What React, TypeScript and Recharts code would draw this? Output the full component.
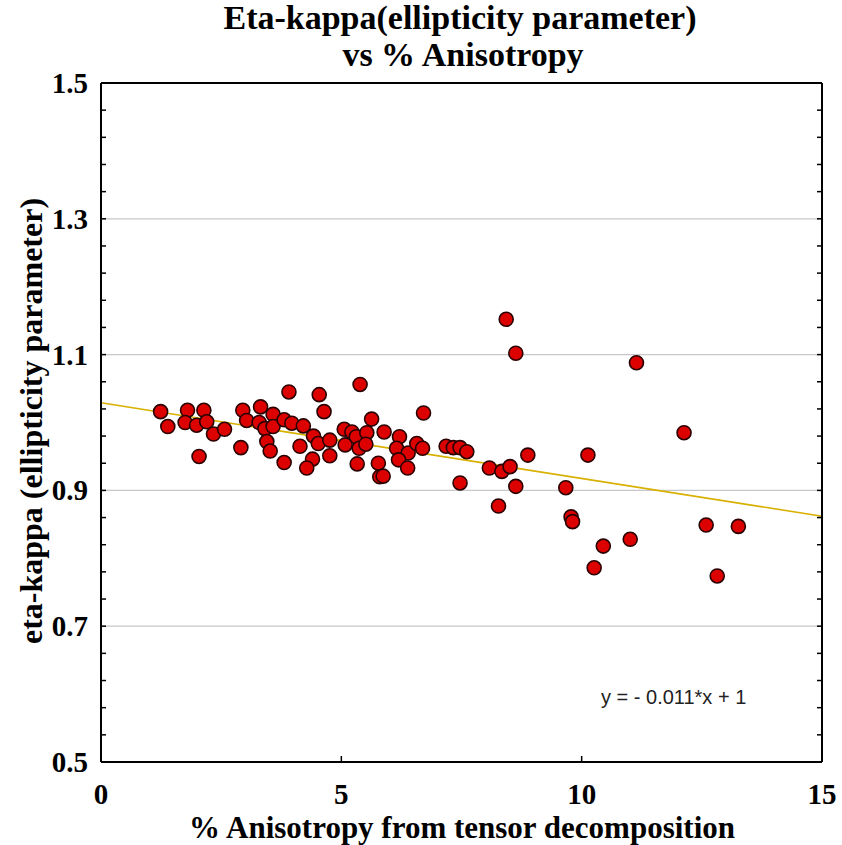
import { ReferenceLine, Scatter, ScatterChart, XAxis, YAxis } from "recharts";

// % anisotropy (x) and eta-kappa (y) for each station
const anisotropy = [
  1.24, 1.39, 1.80, 1.75, 1.99, 2.14, 2.20, 2.34, 2.57, 2.04,
  2.95, 3.03, 2.91, 3.32, 3.29, 3.58, 3.41, 3.58, 3.45, 3.52,
  3.81, 3.97, 3.91, 3.81, 4.14, 4.54, 5.39, 4.64, 4.21, 4.42,
  4.52, 4.40, 4.28, 4.76, 4.76, 5.06, 5.22, 5.31, 5.53, 5.08,
  5.37, 5.51, 5.63, 5.33, 5.77, 5.80, 5.87, 5.89, 6.21, 6.15,
  6.39, 6.19, 6.38, 6.57, 6.69, 6.71, 7.18, 7.33, 7.47, 7.61,
  7.47, 8.43, 8.63, 11.14, 8.08, 8.34, 8.51, 8.63, 8.27, 8.88,
  9.67, 9.78, 9.81, 10.13, 10.45, 10.26, 11.01, 12.13, 12.59, 13.26,
  12.82,
];
const etaKappa = [
  1.016, 0.994, 1.018, 1.0, 0.996, 1.018, 1.001, 0.983, 0.99, 0.95,
  1.018, 1.003, 0.963, 1.023, 1.0, 1.012, 0.991, 0.994, 0.972, 0.958,
  1.004, 0.999, 1.045, 0.941, 0.965, 1.041, 1.056, 1.016, 0.995, 0.98,
  0.969, 0.946, 0.933, 0.974, 0.951, 0.99, 0.986, 0.979, 0.985, 0.967,
  0.962, 0.968, 1.005, 0.939, 0.94, 0.92, 0.921, 0.986, 0.979, 0.962,
  0.955, 0.945, 0.933, 0.969, 0.962, 1.014, 0.965, 0.963, 0.963, 0.957,
  0.911, 1.152, 1.102, 1.088, 0.933, 0.928, 0.935, 0.906, 0.877, 0.952,
  0.904, 0.861, 0.854, 0.952, 0.818, 0.786, 0.828, 0.985, 0.849, 0.847,
  0.774,
];
const points = anisotropy.map((x, i) => ({ x, y: etaKappa[i] }));

// linear fit drawn across the full x range
const fitX = [0, 15];
const fitY = [1.029, 0.862];

const xTicks = [0, 5, 10, 15];
const yMajor = [0.5, 0.7, 0.9, 1.1, 1.3, 1.5];
const yGrid = [0.7, 0.9, 1.1, 1.3];
const yMinor = Array.from({ length: 26 }, (_, i) => +(0.5 + i * 0.04).toFixed(2));

const serif = "'Liberation Serif', 'Times New Roman', serif";
const tickFont = { fontFamily: serif, fontWeight: 700, fontSize: 29, fill: "#000" };

function LeftTick({ x, y, payload }: any) {
  const major = yMajor.includes(payload.value);
  return (
    <g>
      <line x1={x} x2={x + 5} y1={y} y2={y} stroke="#000" strokeWidth={1.5} />
      {major ? (
        <text x={x - 13} y={y} dy={10} textAnchor="end" {...tickFont}>
          {payload.value.toFixed(1)}
        </text>
      ) : null}
    </g>
  );
}

function RightTick({ x, y }: any) {
  return <line x1={x} x2={x - 5} y1={y} y2={y} stroke="#000" strokeWidth={1.5} />;
}

function BottomTick({ x, y, payload }: any) {
  const inner = payload.value > 0 && payload.value < 15;
  return (
    <g>
      {inner ? <line x1={x} x2={x} y1={y} y2={y - 6} stroke="#000" strokeWidth={1.5} /> : null}
      <text x={x} y={y + 42} textAnchor="middle" {...tickFont}>
        {payload.value}
      </text>
    </g>
  );
}

function TopTick({ x, y, payload }: any) {
  if (payload.value <= 0 || payload.value >= 15) return <g />;
  return <line x1={x} x2={x} y1={y} y2={y + 6} stroke="#000" strokeWidth={1.5} />;
}

function Dot({ cx, cy }: any) {
  return <circle cx={cx} cy={cy} r={7} fill="#dc0000" stroke="#2a0000" strokeWidth={1.6} />;
}

const labelStyle: React.CSSProperties = {
  position: "absolute",
  fontFamily: serif,
  fontWeight: 700,
  fontSize: 32,
  color: "#000",
  whiteSpace: "nowrap",
  lineHeight: 1,
};

export default function App() {
  return (
    <div style={{ position: "absolute", left: 0, top: 0, width: 842, height: 845, background: "#fff" }}>
      <ScatterChart width={842} height={845} margin={{ top: 73, right: 10, bottom: 33, left: 41 }}>
        {yGrid.map((v) => (
          <ReferenceLine key={v} yAxisId="left" xAxisId="bottom" y={v} stroke="#c8c8c8" strokeWidth={1.2} />
        ))}
        <XAxis
          xAxisId="bottom"
          dataKey="x"
          type="number"
          domain={[0, 15]}
          ticks={xTicks}
          allowDataOverflow
          height={50}
          tickSize={0}
          tickMargin={0}
          tickLine={false}
          interval={0}
          axisLine={{ stroke: "#000", strokeWidth: 2 }}
          tick={<BottomTick />}
        />
        <XAxis
          xAxisId="top"
          orientation="top"
          type="number"
          domain={[0, 15]}
          ticks={xTicks}
          allowDataOverflow
          height={10}
          tickSize={0}
          tickMargin={0}
          tickLine={false}
          interval={0}
          axisLine={{ stroke: "#000", strokeWidth: 2 }}
          tick={<TopTick />}
        />
        <YAxis
          yAxisId="left"
          dataKey="y"
          type="number"
          domain={[0.5, 1.5]}
          ticks={yMinor}
          allowDataOverflow
          width={60}
          tickSize={0}
          tickMargin={0}
          tickLine={false}
          interval={0}
          axisLine={{ stroke: "#000", strokeWidth: 2 }}
          tick={<LeftTick />}
        />
        <YAxis
          yAxisId="right"
          orientation="right"
          type="number"
          domain={[0.5, 1.5]}
          ticks={yMinor}
          allowDataOverflow
          width={10}
          tickSize={0}
          tickMargin={0}
          tickLine={false}
          interval={0}
          axisLine={{ stroke: "#000", strokeWidth: 2 }}
          tick={<RightTick />}
        />
        <ReferenceLine
          xAxisId="bottom"
          yAxisId="left"
          segment={[
            { x: fitX[0], y: fitY[0] },
            { x: fitX[1], y: fitY[1] },
          ]}
          stroke="#d8b000"
          strokeWidth={1.6}
        />
        <Scatter
          xAxisId="bottom"
          yAxisId="left"
          data={points}
          shape={<Dot />}
          isAnimationActive={false}
        />
      </ScatterChart>

      <div style={{ ...labelStyle, fontSize: 34, left: 0, width: 920, top: 1, textAlign: "center" }}>
        Eta-kappa(ellipticity parameter)
      </div>
      <div style={{ ...labelStyle, fontSize: 34, left: 0, width: 926, top: 38, textAlign: "center" }}>
        vs % Anisotropy
      </div>
      <div style={{ ...labelStyle, fontSize: 31, left: 0, width: 924, top: 812, textAlign: "center" }}>
        % Anisotropy from tensor decomposition
      </div>
      <div
        style={{
          ...labelStyle,
          left: 31,
          top: 421,
          transform: "translate(-50%, -50%) rotate(-90deg)",
        }}
      >
        eta-kappa (ellipticity parameter)
      </div>
      <div
        style={{
          position: "absolute",
          left: 601,
          top: 687,
          fontFamily: "'Liberation Sans', Arial, sans-serif",
          fontSize: 20,
          color: "#222",
          whiteSpace: "nowrap",
          lineHeight: 1,
        }}
      >
        y = - 0.011*x + 1
      </div>
    </div>
  );
}
